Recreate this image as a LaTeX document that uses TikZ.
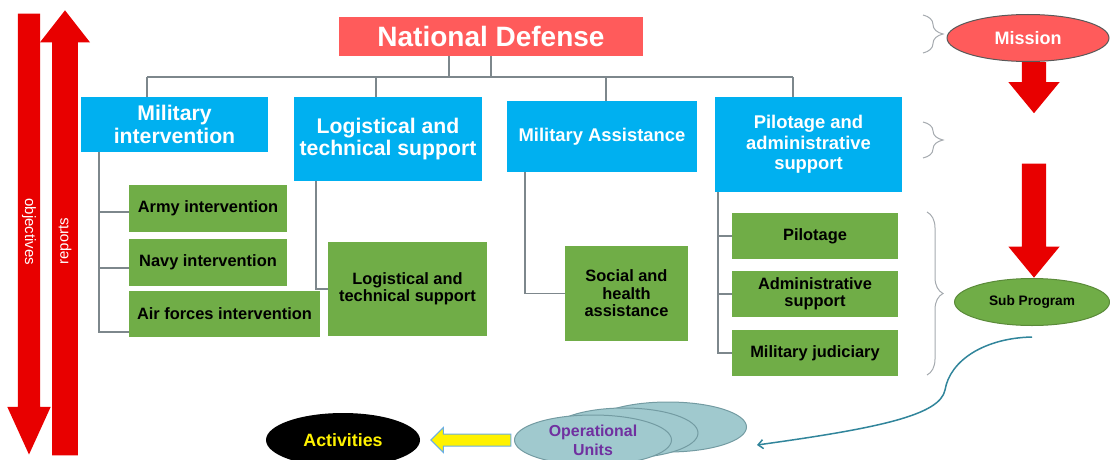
\documentclass[tikz,border=0pt]{standalone}
\usepackage{fontspec}
\setmainfont{Liberation Sans}
\usetikzlibrary{shapes.geometric, shapes.arrows, arrows.meta, calc, decorations.pathreplacing}
\definecolor{ndred}{RGB}{255,91,91}
\definecolor{progblue}{RGB}{0,176,240}
\definecolor{subgreen}{RGB}{112,173,71}
\definecolor{bigred}{RGB}{232,0,0}
\definecolor{treegray}{RGB}{125,135,140}
\definecolor{bracegray}{RGB}{165,170,175}
\definecolor{unitteal}{RGB}{160,201,206}
\definecolor{unitedge}{RGB}{115,155,162}
\definecolor{flowteal}{RGB}{49,133,155}
\definecolor{unitpurple}{RGB}{112,48,160}
\tikzset{
  headbox/.style={rectangle, fill=ndred, text=white, inner sep=0pt,
                  font=\fontsize{28}{30}\selectfont\bfseries},
  progbox/.style={rectangle, fill=progblue, text=white, align=center, inner sep=0pt,
                  font=\fontsize{21.2}{22.5}\selectfont\bfseries},
  smallprog/.style={progbox, font=\fontsize{18.4}{20.3}\selectfont\bfseries},
  actbox/.style={rectangle, fill=subgreen, align=center, inner sep=0pt,
                 font=\fontsize{16.4}{17.5}\selectfont\bfseries},
  branch/.style={draw=treegray, line width=1.5pt},
  lvlbrace/.style={draw=bracegray, line width=1pt,
                   decorate, decoration={brace, amplitude=#1}},
  bigarrow/.style={single arrow, fill=bigred, inner xsep=0pt,
                   single arrow head indent=0pt},
  oval/.style={ellipse, inner sep=0pt, align=center},
  unit/.style={oval, fill=unitteal, draw=unitedge, line width=1pt,
               minimum width=157pt, minimum height=50pt},
  flow/.style={draw=flowteal, line width=1.5pt, -{Straight Barb[length=5pt, width=9pt]}},
}
\begin{document}
\begin{tikzpicture}[x=1pt, y=-1pt]
\useasboundingbox (0,0) rectangle (1110,460);

% objectives down, reports up
\node[bigarrow, rotate=-90, anchor=tip, minimum height=441pt, minimum width=43pt, inner ysep=4pt,
      single arrow head extend=10.5pt, single arrow tip angle=49,
      text=white, font=\fontsize{15}{15}\selectfont] (obj) at (29,455) {\hspace*{20pt}objectives};
\node[bigarrow, rotate=90, anchor=tip, minimum height=445pt, minimum width=50pt, inner ysep=6pt,
      single arrow head extend=12pt, single arrow tip angle=76,
      text=white, font=\fontsize{15}{15}\selectfont] (rep) at (65,10) {reports};

% top of the tree
\node[headbox, minimum width=304pt, minimum height=39pt] (nd) at (491,36.5) {National Defense};

\node[progbox, minimum width=187pt, minimum height=55pt] (mil) at (174.5,124.5) {Military\\intervention};
\node[progbox, minimum width=188pt, minimum height=84pt] (log) at (388,139) {Logistical and\\technical support};
\node[smallprog, minimum width=190pt, minimum height=71pt] (ast) at (602,136.5) {Military Assistance};
\node[smallprog, minimum width=187pt, minimum height=95pt] (pil) at (808.5,144.5) {Pilotage  and\\administrative\\support};

% actions
\foreach \nm/\x/\y/\w/\h/\txt in {
    army/208/208.5/158/47/{Army intervention},
    navy/208/262.5/158/47/{Navy intervention},
    air/224.5/314/191/46/{Air forces intervention},
    logg/407.5/289/159/94/{Logistical and\\technical support},
    soc/626.5/293.5/123/95/{Social and\\health\\assistance},
    pilg/815/236/166/46/{Pilotage},
    adm/815/294/166/46/{Administrative\\support},
    jud/815/353/166/46/{Military  judiciary}}
  \node[actbox, minimum width=\w pt, minimum height=\h pt] (\nm) at (\x,\y) {\txt};

% connectors
\foreach \prog/\x [count=\i] in {mil/147, log/376, ast/606, pil/793}{
  \coordinate (drop\i) at (\x,77);
  \draw[branch] (drop\i) -- (drop\i |- \prog.north);
}
\draw[branch] (drop1) -- (drop4);
\coordinate (ndl) at ([xshift=-42pt]nd.south);
\draw[branch] (nd.south) -- (nd.south |- drop1);
\draw[branch] (ndl) -- (ndl |- drop1);

\foreach \kid/\dy in {army/-3.5, navy/-5.5, air/-18}
  \draw[branch] ([xshift=18pt]mil.south west) |- ([yshift=\dy pt]\kid.west);
\draw[branch] ([xshift=22pt]log.south west) |- (logg.west);
\draw[branch] ([xshift=18pt]ast.south west) |- (soc.west);
\foreach \kid in {pilg, adm, jud}
  \draw[branch] ([xshift=3pt]pil.south west) |- (\kid.west);

% levels on the right
\draw[lvlbrace=20pt] (923,15) -- (923,53);
\draw[lvlbrace=20pt] (923,122) -- (923,158);
\draw[lvlbrace=16pt] (927,212) -- (927,375);

\node[oval, fill=ndred, draw=black!65, line width=1pt, minimum width=162pt, minimum height=47pt,
      text=white, font=\fontsize{18}{18}\selectfont\bfseries] (mis) at (1028,38) {Mission};
\node[oval, fill=subgreen, draw=subgreen!80!black, line width=1pt, minimum width=155pt, minimum height=47pt,
      font=\fontsize{13.7}{14}\selectfont\bfseries] (sub) at (1032,302) {Sub Program};

\node[bigarrow, rotate=-90, anchor=tail, minimum height=51pt, minimum width=51pt, inner ysep=12pt,
      single arrow head extend=13.5pt, single arrow tip angle=79] (a1) at ([xshift=6pt]mis.south) {};
\node[bigarrow, rotate=-90, anchor=tip, minimum height=114pt, minimum width=51pt, inner ysep=12pt,
      single arrow head extend=13.5pt, single arrow tip angle=79] (a2) at ([xshift=2pt]sub.north) {};

% bottom row
\node[unit] (ub) at (668,427) {};
\node[unit, minimum width=148pt] (um) at (624,433) {};
\node[unit, text=unitpurple, font=\fontsize{15.9}{19}\selectfont\bfseries] (units) at (593,440) {Operational\\Units};
\node[oval, fill=black, text=yellow, minimum width=154pt, minimum height=54pt,
      font=\fontsize{17.8}{18}\selectfont\bfseries] (act) at (343,440) {Activities};
\node[single arrow, rotate=180, anchor=tip, fill=yellow, draw=cyan!70!blue!60, line width=1pt,
      inner xsep=0pt, inner ysep=5.5pt, minimum height=80pt, minimum width=24pt,
      single arrow head extend=6.5pt, single arrow head indent=0pt] (feed) at ([xshift=10pt]act.east) {};

\draw[flow] ([yshift=-11pt]sub.south) .. controls (985,338) and (950,360) .. (945,390)
            .. controls (940,415) and (880,428) .. ([xshift=10pt, yshift=-18pt]ub.east);
\end{tikzpicture}
\end{document}
